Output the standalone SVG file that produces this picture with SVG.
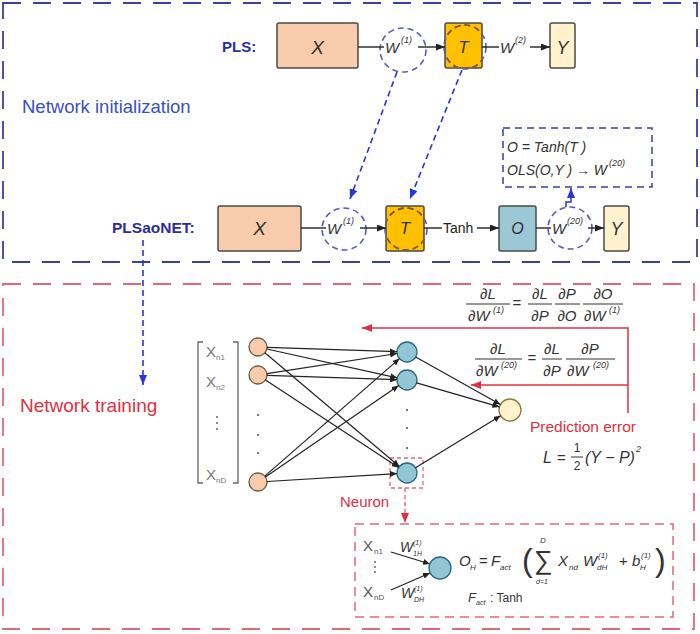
<svg xmlns="http://www.w3.org/2000/svg" width="700" height="634" viewBox="0 0 700 634">
<defs>
<style>
.t{font-family:"Liberation Sans",Arial,sans-serif;}
.m{font-family:"Liberation Sans",Arial,sans-serif;font-style:italic;fill:#333;}
.box{stroke:#4a4a4a;stroke-width:1.5;}
.ln{stroke:#222;stroke-width:1.4;fill:none;}
.la{stroke:#222;stroke-width:1.4;fill:none;marker-end:url(#ah);}
.ell{fill:none;stroke:#5a5ab8;stroke-width:1.6;stroke-dasharray:6 4;}
.ellb{fill:none;stroke:#8a5a20;stroke-width:1.6;stroke-dasharray:6 4;}
.nn{stroke:#222;stroke-width:1.2;marker-end:url(#ah2);}
.bd{stroke:#2a35d8;stroke-width:1.6;stroke-dasharray:6 4;fill:none;marker-end:url(#bh);}
.rd{stroke:#e03040;stroke-width:1.5;fill:none;marker-end:url(#rh);}
.fl{stroke:#333;stroke-width:1;}
.sup{font-size:9px;}
.inp{fill:#f8cbad;stroke:#6a5a40;stroke-width:1.3;}
.hid{fill:#93c6d4;stroke:#2a6a7a;stroke-width:1.3;}
.dot{fill:#555;}
</style>
<marker id="ah" markerWidth="9" markerHeight="7" refX="9" refY="3.5" orient="auto" markerUnits="userSpaceOnUse"><path d="M0,0 L9,3.5 L0,7 z" fill="#222"/></marker>
<marker id="ah2" markerWidth="7" markerHeight="6" refX="7" refY="3" orient="auto" markerUnits="userSpaceOnUse"><path d="M0,0 L7,3 L0,6 z" fill="#222"/></marker>
<marker id="bh" markerWidth="10" markerHeight="8" refX="10" refY="4" orient="auto" markerUnits="userSpaceOnUse"><path d="M0,0 L10,4 L0,8 z" fill="#2a35d8"/></marker>
<marker id="rh" markerWidth="10" markerHeight="8" refX="10" refY="4" orient="auto" markerUnits="userSpaceOnUse"><path d="M0,0 L10,4 L0,8 z" fill="#e03040"/></marker>
<clipPath id="c1"><rect x="445" y="23" width="37" height="45"/></clipPath>
<clipPath id="c2"><rect x="386" y="206" width="38" height="45"/></clipPath>
</defs>

<g id="init-frame">
<rect x="3" y="3" width="694" height="259" fill="none" stroke="#3b3fa0" stroke-width="1.8" stroke-dasharray="18 12"/>
<text class="t" x="22" y="113" font-size="18.5" fill="#3a4fc4">Network initialization</text>
</g>
<g id="train-frame">
<rect x="3" y="284" width="691" height="345" fill="none" stroke="#e06a7a" stroke-width="1.8" stroke-dasharray="18 12"/>
<text class="t" x="20" y="412" font-size="19" fill="#e03040">Network training</text>
</g>

<g id="pls-label"><text class="t" x="222" y="52" font-size="15" font-weight="bold" fill="#2d2d9a">PLS:</text></g>
<g id="pls-x"><rect class="box" x="277" y="23" width="81" height="45" rx="2" fill="#f8cbad"/><text class="m" x="317.5" y="54" font-size="19" text-anchor="middle">X</text></g>
<g id="pls-w1"><ellipse class="ell" cx="403" cy="50" rx="23" ry="22"/><text class="m" x="385" y="53" font-size="15" fill="#444">W</text><text class="m sup" x="401" y="43">(1)</text></g>
<g id="pls-t"><rect class="box" x="445" y="23" width="37" height="45" rx="2" fill="#ffc000"/><text class="m" x="463.5" y="53" font-size="17" text-anchor="middle">T</text>
<ellipse class="ell" cx="465" cy="47" rx="21" ry="22"/><ellipse class="ellb" cx="465" cy="47" rx="21" ry="22" clip-path="url(#c1)"/></g>
<g id="pls-w2"><text class="m" x="500" y="53" font-size="15" fill="#444">W</text><text class="m sup" x="515" y="43">(2)</text></g>
<g id="pls-y"><rect class="box" x="550" y="23" width="25" height="45" rx="2" fill="#fff2cc"/><text class="m" x="562.5" y="54" font-size="18" text-anchor="middle">Y</text></g>

<g id="net-label"><text class="t" x="112" y="233" font-size="15.5" font-weight="bold" fill="#2d2d9a">PLSaoNET:</text></g>
<g id="net-x"><rect class="box" x="218" y="206" width="83" height="45" rx="2" fill="#f8cbad"/><text class="m" x="259.5" y="235" font-size="19" text-anchor="middle">X</text></g>
<g id="net-w1"><ellipse class="ell" cx="344" cy="229" rx="22" ry="21"/><text class="m" x="327" y="234" font-size="15" fill="#444">W</text><text class="m sup" x="343" y="224">(1)</text></g>
<g id="net-t"><rect class="box" x="386" y="206" width="38" height="45" rx="2" fill="#ffc000"/><text class="m" x="405" y="234" font-size="17" text-anchor="middle">T</text>
<ellipse class="ell" cx="406" cy="229" rx="21" ry="21"/><ellipse class="ellb" cx="406" cy="229" rx="21" ry="21" clip-path="url(#c2)"/></g>
<g id="net-tanh"><text class="t" x="443" y="233" font-size="14" fill="#222">Tanh</text></g>
<g id="net-o"><rect class="box" x="499" y="206" width="37" height="45" rx="2" fill="#9cc8d6"/><text class="m" x="517.5" y="234" font-size="16" text-anchor="middle">O</text></g>
<g id="net-w20"><ellipse class="ell" cx="570" cy="228" rx="22" ry="21"/><text class="m" x="552" y="234" font-size="15" fill="#444">W</text><text class="m sup" x="567" y="224">(20)</text></g>
<g id="net-y"><rect class="box" x="604" y="206" width="25" height="45" rx="2" fill="#fff2cc"/><text class="m" x="616.5" y="235" font-size="18" text-anchor="middle">Y</text></g>
<g id="ols-box"><rect x="503" y="128" width="149" height="59" fill="none" stroke="#3b3fa0" stroke-width="1.5" stroke-dasharray="7 5"/>
<text class="m" x="507" y="152" font-size="14">O = Tanh(T )</text>
<text class="m" x="507" y="175" font-size="14">OLS(O,Y ) → W</text><text class="m sup" x="609" y="166">(20)</text></g>

<g id="nn-inputs">
<path d="M203,342 L198,342 L198,483 L203,483 M233,342 L238,342 L238,483 L233,483" fill="none" stroke="#666" stroke-width="1.3"/>
<text class="t" x="206" y="357" font-size="15" fill="#777">X</text><text class="t" x="216" y="360" font-size="8" fill="#777">n1</text>
<text class="t" x="206" y="387" font-size="15" fill="#777">X</text><text class="t" x="216" y="390" font-size="8" fill="#777">n2</text>
<text class="t" x="206" y="480" font-size="15" fill="#777">X</text><text class="t" x="216" y="483" font-size="8" fill="#777">nD</text>
<circle class="dot" cx="217" cy="417" r="0.9"/><circle class="dot" cx="217" cy="423" r="0.9"/><circle class="dot" cx="217" cy="429" r="0.9"/>
<circle class="inp" cx="258" cy="347" r="9"/><circle class="inp" cx="258" cy="375" r="9"/><circle class="inp" cx="258" cy="482" r="9"/>
<circle class="dot" cx="258" cy="415" r="1.1"/><circle class="dot" cx="258" cy="435" r="1.1"/><circle class="dot" cx="258" cy="453" r="1.1"/>
</g>
<g id="nn-hidden">
<circle class="hid" cx="407" cy="352" r="10"/><circle class="hid" cx="407" cy="380" r="10"/><circle class="hid" cx="407" cy="473" r="10"/>
<circle class="dot" cx="407" cy="410" r="1.1"/><circle class="dot" cx="407" cy="428" r="1.1"/><circle class="dot" cx="407" cy="448" r="1.1"/>
<rect x="390" y="458" width="33" height="30" fill="none" stroke="#e06a7a" stroke-width="1.3" stroke-dasharray="4 3"/>
</g>
<g id="nn-output"><circle cx="510" cy="410" r="11" fill="#fff2cc" stroke="#8a7a40" stroke-width="1.3"/></g>

<g id="eq1">
<text class="m" x="488" y="299" font-size="15" text-anchor="middle">∂L</text><line class="fl" x1="466" y1="304" x2="510" y2="304"/><text class="m" x="468" y="321" font-size="15">∂W</text><text class="m sup" x="493" y="313">(1)</text>
<text class="t" x="517" y="308" font-size="15" text-anchor="middle" fill="#333">=</text>
<text class="m" x="540" y="299" font-size="15" text-anchor="middle">∂L</text><line class="fl" x1="528" y1="304" x2="552" y2="304"/><text class="m" x="540" y="321" font-size="15" text-anchor="middle">∂P</text>
<text class="m" x="567" y="299" font-size="15" text-anchor="middle">∂P</text><line class="fl" x1="555" y1="304" x2="580" y2="304"/><text class="m" x="567" y="321" font-size="15" text-anchor="middle">∂O</text>
<text class="m" x="603" y="299" font-size="15" text-anchor="middle">∂O</text><line class="fl" x1="583" y1="304" x2="623" y2="304"/><text class="m" x="584" y="321" font-size="15">∂W</text><text class="m sup" x="609" y="313">(1)</text>
</g>
<g id="eq2">
<text class="m" x="498" y="354" font-size="15" text-anchor="middle">∂L</text><line class="fl" x1="475" y1="359" x2="522" y2="359"/><text class="m" x="476" y="376" font-size="15">∂W</text><text class="m sup" x="501" y="368">(20)</text>
<text class="t" x="532" y="363" font-size="15" text-anchor="middle" fill="#333">=</text>
<text class="m" x="552" y="354" font-size="15" text-anchor="middle">∂L</text><line class="fl" x1="542" y1="359" x2="562" y2="359"/><text class="m" x="552" y="376" font-size="15" text-anchor="middle">∂P</text>
<text class="m" x="590" y="354" font-size="15" text-anchor="middle">∂P</text><line class="fl" x1="566" y1="359" x2="615" y2="359"/><text class="m" x="567" y="376" font-size="15">∂W</text><text class="m sup" x="593" y="368">(20)</text>
</g>
<g id="pred-error">
<text class="t" x="530" y="432" font-size="15.5" fill="#e03040">Prediction error</text>
<text class="m" x="543" y="463" font-size="16">L</text><text class="t" x="557" y="463" font-size="15" fill="#333">=</text>
<text class="t" x="577" y="452" font-size="12" text-anchor="middle" fill="#333">1</text><line class="fl" x1="571" y1="457" x2="583" y2="457"/><text class="t" x="577" y="470" font-size="12" text-anchor="middle" fill="#333">2</text>
<text class="m" x="585" y="463" font-size="16">(Y − P)</text><text class="m sup" x="636" y="452">2</text>
</g>
<g id="neuron-label"><text class="t" x="340" y="507" font-size="15" fill="#e03040">Neuron</text></g>
<g id="neuron-detail">
<rect x="355" y="524" width="318" height="93" fill="none" stroke="#e06a7a" stroke-width="1.5" stroke-dasharray="9 6"/>
<text class="t" x="363" y="551" font-size="15" fill="#555">X</text><text class="t" x="374" y="554" font-size="8" fill="#555">n1</text>
<circle class="dot" cx="375" cy="562" r="0.9"/><circle class="dot" cx="375" cy="567" r="0.9"/><circle class="dot" cx="375" cy="572" r="0.9"/>
<text class="t" x="363" y="597" font-size="15" fill="#555">X</text><text class="t" x="374" y="600" font-size="8" fill="#555">nD</text>
<text class="m" x="400" y="552" font-size="14">W</text><text class="m" x="413" y="556" font-size="7">1H</text><text class="m" x="413" y="545" font-size="7">(1)</text>
<text class="m" x="401" y="598" font-size="14">W</text><text class="m" x="414" y="602" font-size="7">DH</text><text class="m" x="414" y="591" font-size="7">(1)</text>
<line class="nn" x1="391" y1="552" x2="430" y2="564"/><line class="nn" x1="391" y1="590" x2="430" y2="573"/>
<circle class="hid" cx="440" cy="568" r="11"/>
<text class="m" x="459" y="566" font-size="15">O</text><text class="m" x="470" y="570" font-size="8">H</text>
<text class="t" x="479" y="566" font-size="15" fill="#333">=</text>
<text class="m" x="491" y="566" font-size="15">F</text><text class="m" x="500" y="570" font-size="8">act</text>
<text class="t" x="522" y="571" font-size="32" fill="#333">(</text>
<text class="t" x="534" y="569" font-size="26" fill="#333">∑</text>
<text class="m" x="540" y="543" font-size="8">D</text><text class="m" x="536" y="584" font-size="7">d=1</text>
<text class="m" x="558" y="566" font-size="15">X</text><text class="m" x="569" y="570" font-size="8">nd</text>
<text class="m" x="583" y="566" font-size="15">W</text><text class="m" x="597" y="570" font-size="8">dH</text><text class="m" x="598" y="558" font-size="8">(1)</text>
<text class="t" x="619" y="566" font-size="15" fill="#333">+</text>
<text class="m" x="632" y="566" font-size="15">b</text><text class="m" x="640" y="570" font-size="8">H</text><text class="m" x="641" y="558" font-size="8">(1)</text>
<text class="t" x="655" y="571" font-size="32" fill="#333">)</text>
<text class="m" x="468" y="602" font-size="13">F</text><text class="m" x="476" y="605" font-size="7">act</text><text class="t" x="490" y="602" font-size="12" fill="#333">: Tanh</text>
</g>

<g id="connectors">
<line class="ln" x1="358" y1="47" x2="384" y2="47"/>
<line class="la" x1="418" y1="47" x2="445" y2="47"/>
<line class="ln" x1="482" y1="47" x2="499" y2="47"/>
<line class="la" x1="530" y1="47" x2="550" y2="47"/>
<line class="ln" x1="301" y1="228" x2="326" y2="228"/>
<line class="la" x1="360" y1="228" x2="386" y2="228"/>
<line class="ln" x1="424" y1="228" x2="442" y2="228"/>
<line class="la" x1="477" y1="228" x2="499" y2="228"/>
<line class="ln" x1="536" y1="228" x2="551" y2="228"/>
<line class="la" x1="588" y1="228" x2="604" y2="228"/>
<path d="M566,207 L566,202 L571,202 L571,188" fill="none" stroke="#2a35d8" stroke-width="1.5" marker-end="url(#bh)"/>
<line class="bd" x1="397" y1="72" x2="350" y2="199"/>
<line class="bd" x1="462" y1="70" x2="410" y2="199"/>
<line class="bd" x1="143" y1="240" x2="143" y2="385"/>
<line class="nn" x1="267" y1="347.3" x2="397" y2="351.7"/>
<line class="nn" x1="266.8" y1="349" x2="397.2" y2="377.8"/>
<line class="nn" x1="264.9" y1="352.8" x2="399.4" y2="466.5"/>
<line class="nn" x1="266.9" y1="373.6" x2="397.1" y2="353.5"/>
<line class="nn" x1="267" y1="375.3" x2="397" y2="379.7"/>
<line class="nn" x1="265.5" y1="380" x2="398.6" y2="467.5"/>
<line class="nn" x1="264.8" y1="476.1" x2="399.5" y2="358.6"/>
<line class="nn" x1="265.4" y1="476.9" x2="398.7" y2="385.6"/>
<line class="nn" x1="267" y1="481.5" x2="397" y2="473.6"/>
<line class="nn" x1="415.7" y1="356.9" x2="500.4" y2="404.6"/>
<line class="nn" x1="416.6" y1="382.8" x2="499.4" y2="406.9"/>
<line class="nn" x1="415.5" y1="467.8" x2="500.6" y2="415.7"/>
<path class="rd" d="M628,413 L628,328 L362,328"/>
<path class="rd" d="M628,385 L471,385"/>
<line x1="405" y1="488" x2="405" y2="523" stroke="#e06a7a" stroke-width="1.4" stroke-dasharray="4 3" marker-end="url(#rh)"/>
</g>
</svg>
